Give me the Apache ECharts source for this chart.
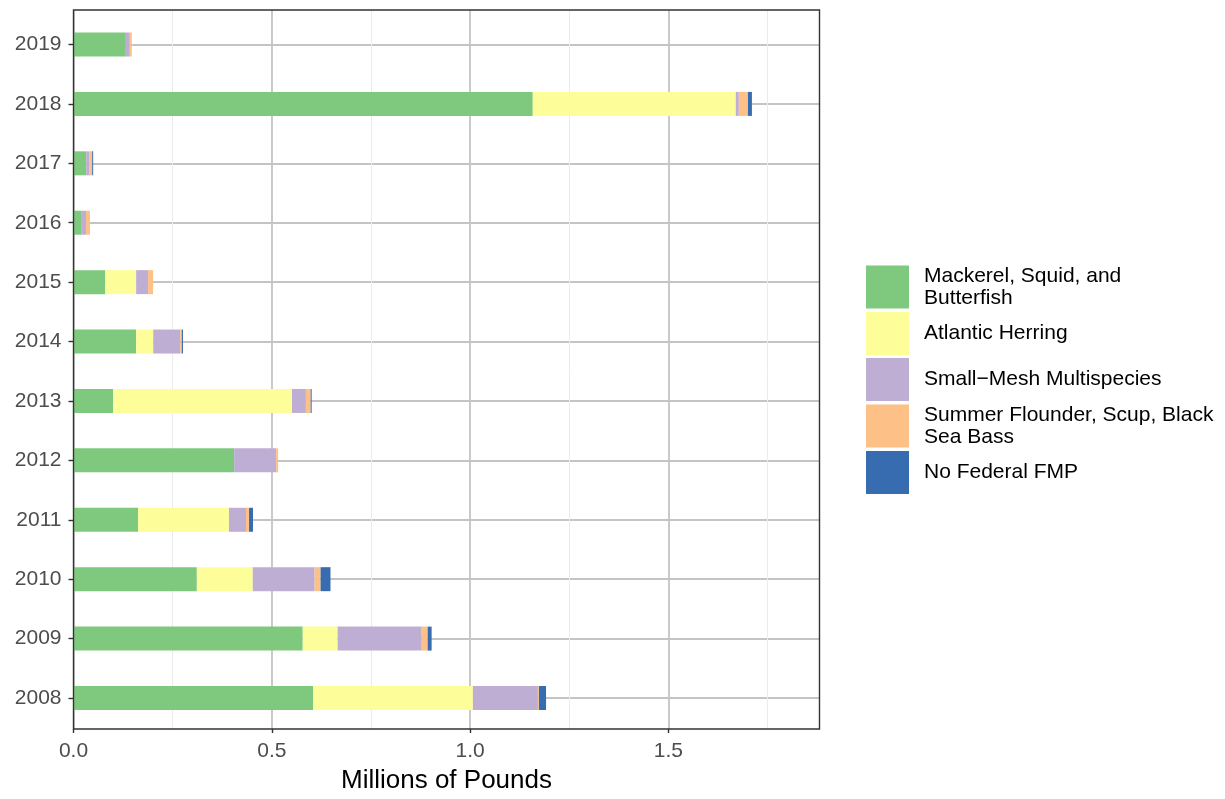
<!DOCTYPE html>
<html>
<head>
<meta charset="utf-8">
<script src="https://cdn.jsdelivr.net/npm/echarts@6/dist/echarts.min.js"></script>
<style>html,body{margin:0;padding:0;background:#fff;}#chart{width:1225px;height:799px;}</style>
</head>
<body>
<div id="chart"></div>
<script>
const years = ['2008','2009','2010','2011','2012','2013','2014','2015','2016','2017','2018','2019'];
const seriesNames = ['Mackerel, Squid, and\nButterfish','Atlantic Herring','Small\u2212Mesh Multispecies','Summer Flounder, Scup, Black\nSea Bass','No Federal FMP'];
const mackerel = [0.604,0.578,0.311,0.163,0.405,0.100,0.158,0.080,0.019,0.032,1.158,0.132];
const herring  = [0.403,0.088,0.141,0.229,0,0.451,0.043,0.078,0,0,0.512,0];
const smallMesh = [0.164,0.212,0.156,0.043,0.106,0.035,0.068,0.030,0.0126,0.0075,0.0076,0.010];
const summerFlounder = [0.0025,0.015,0.015,0.0076,0.005,0.012,0.004,0.0126,0.010,0.0076,0.023,0.005];
const noFMP = [0.018,0.010,0.025,0.010,0,0.0025,0.003,0,0,0.0025,0.010,0];
const xTicks = [0, 0.5, 1.0, 1.5];
const xMax = 1.881;
const colors = ['#7fc97f','#fdfd99','#beaed4','#fdc086','#386cb0'];

const FONT = 'Liberation Sans, Arial, Helvetica, sans-serif';
const seriesData = [mackerel, herring, smallMesh, summerFlounder, noFMP];

const chart = echarts.init(document.getElementById('chart'), null, {renderer:'canvas'});
chart.setOption({
  backgroundColor: '#ffffff',
  animation: false,
  textStyle: {fontFamily: FONT},
  color: colors,
  grid: [
    {left: 73.5, right: 405.5, top: 14.8, height: 712.9, containLabel: false},
    {left: 73.5, right: 405.5, top: 10, bottom: 66, show: true, borderColor: '#333333', borderWidth: 1.4, backgroundColor: 'transparent', z: 3}
  ],
  legend: {
    orient: 'vertical',
    left: 866,
    top: 265,
    padding: 0,
    itemWidth: 43,
    itemHeight: 43,
    itemGap: 3,
    icon: 'rect',
    selectedMode: false,
    data: seriesNames,
    textStyle: {fontFamily: FONT, fontSize: 21, color: '#000000', lineHeight: 22, padding: [0,0,0,10]}
  },
  xAxis: [
    {gridIndex: 0, type: 'value', min: 0, max: xMax, show: false},
    {gridIndex: 1, type: 'value', min: 0, max: xMax, interval: 0.5,
      name: 'Millions of Pounds', nameLocation: 'middle', nameGap: 39,
      nameTextStyle: {fontFamily: FONT, fontSize: 26, color: '#000000'},
      axisLine: {show: false},
      axisTick: {show: true, length: 4, lineStyle: {color: '#333333', width: 1.4}, customValues: xTicks},
      axisLabel: {fontFamily: FONT, fontSize: 21, color: '#4d4d4d', margin: 12,
        customValues: xTicks,
        formatter: v => v.toFixed(1)},
      splitLine: {show: true, lineStyle: {color: '#c4c4c4', width: 1.8}},
      minorTick: {show: false, splitNumber: 2},
      minorSplitLine: {show: true, lineStyle: {color: '#ebebeb', width: 1}}
    }
  ],
  yAxis: [
    {gridIndex: 0, type: 'category', data: years,
      axisLine: {show: false},
      axisTick: {show: true, alignWithLabel: true, length: 5, lineStyle: {color: '#333333', width: 1.4}},
      axisLabel: {fontFamily: FONT, fontSize: 21, color: '#4d4d4d', margin: 12},
      splitLine: {show: true, alignWithLabel: true, lineStyle: {color: '#c4c4c4', width: 2}}
    },
    {gridIndex: 1, type: 'value', min: 0, max: 1, show: false}
  ],
  series: seriesNames.map((name, i) => ({
    name: name,
    type: 'bar',
    stack: 'total',
    xAxisIndex: 0,
    yAxisIndex: 0,
    barWidth: 24,
    itemStyle: {color: colors[i]},
    data: seriesData[i]
  }))
});
</script>
</body>
</html>
